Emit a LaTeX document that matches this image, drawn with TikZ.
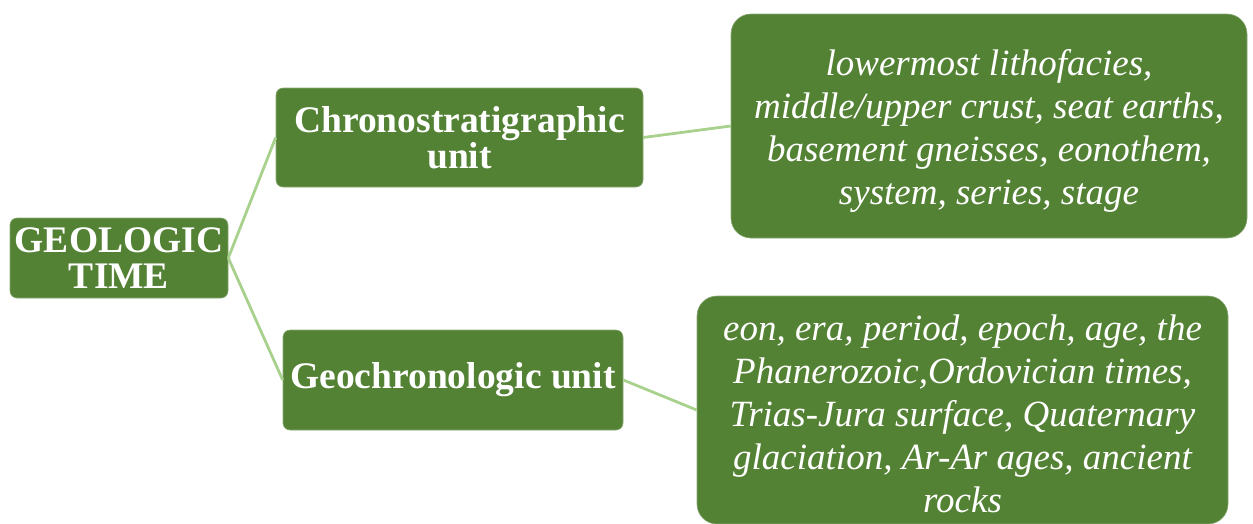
\documentclass[tikz,border=0pt]{standalone}
\usepackage{fontspec}
\setmainfont{Liberation Serif}
\definecolor{boxgreen}{HTML}{548235}
\definecolor{linegreen}{HTML}{A9D18E}
\begin{document}
\begin{tikzpicture}[x=1pt,y=-1pt,
  box/.style={fill=boxgreen, draw=boxgreen!70!white, line width=0.6pt, text=white, inner sep=0pt, align=center},
  smallbox/.style={box, rounded corners=7pt, font=\fontsize{37.5}{36}\selectfont\bfseries},
  bigbox/.style={box, rounded corners=20pt},
  bigtext/.style={text=white, inner sep=0pt, align=center, font=\fontsize{37}{43}\selectfont\itshape},
  link/.style={draw=linegreen, line width=2.8pt}]
\useasboundingbox (0,0) rectangle (1253,523);
\node[smallbox, minimum width=218pt, minimum height=80pt] (geo) at (119,258) {GEOLOGIC\\TIME};
\node[smallbox, minimum width=367pt, minimum height=99pt] (chrono) at (459.5,137.5) {Chronostratigraphic\\unit};
\node[smallbox, minimum width=340pt, minimum height=100pt] (geochrono) at (453,380) {Geochronologic unit};
\node[bigbox, minimum width=516pt, minimum height=224pt] (top) at (989,126) {};
\node[bigtext] (toptext) at ([yshift=-5pt]top.center) {lowermost lithofacies,\\middle/upper crust, seat earths,\\basement gneisses, eonothem,\\system, series, stage};
\node[bigbox, minimum width=531pt, minimum height=228pt] (bottom) at (962.5,410) {};
\node[bigtext] (bottomtext) at ([yshift=-4pt]bottom.center) {eon, era, period, epoch, age, the\\Phanerozoic,Ordovician times,\\Trias-Jura surface, Quaternary\\glaciation, Ar-Ar ages, ancient\\rocks};
\draw[link] (geo.east) -- (chrono.west);
\draw[link] (geo.east) -- (geochrono.west);
\draw[link] (chrono.east) -- (top.west);
\draw[link] (geochrono.east) -- (bottom.west);
\end{tikzpicture}
\end{document}
